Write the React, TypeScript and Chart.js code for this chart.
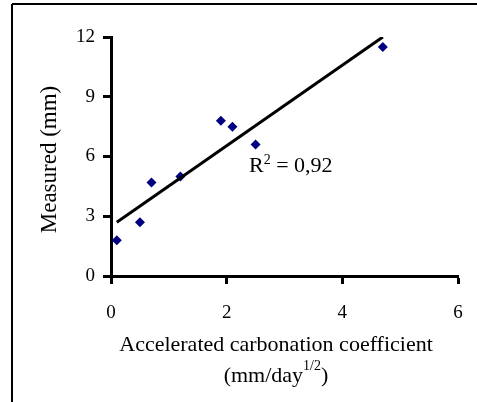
import React, { useEffect, useRef } from "react";
import { Chart, registerables } from "chart.js";

Chart.register(...registerables);

const measuredPoints = [
  { x: 0.1, y: 1.8 },
  { x: 0.5, y: 2.7 },
  { x: 0.7, y: 4.7 },
  { x: 1.2, y: 5.0 },
  { x: 1.9, y: 7.8 },
  { x: 2.1, y: 7.5 },
  { x: 2.5, y: 6.6 },
  { x: 4.7, y: 11.5 },
];
const trendLine = [
  { x: 0.1, y: 2.7 },
  { x: 4.7, y: 12.0 },
];
const xTicks = [0, 2, 4, 6];
const yTicks = [0, 3, 6, 9, 12];
const yTitle = "Measured (mm)";
const xTitleLine1 = "Accelerated carbonation coefficient";
const xTitleLine2 = ["(mm/day", "1/2", ")"];
const r2Label = ["R", "2", " = 0,92"];

const FONT = "'Liberation Serif', 'Times New Roman', serif";
const TICK_SIZE = 19;
const TITLE_SIZE = 22;
const YTITLE_SIZE = 23;
const SUP = 14;

const decorPlugin = {
  id: "decor",
  afterDraw(chart: any) {
    const ctx = chart.ctx as CanvasRenderingContext2D;
    const area = chart.chartArea;
    ctx.save();
    ctx.strokeStyle = "#000";
    ctx.lineWidth = 2;
    ctx.beginPath();
    ctx.moveTo(12, 4);
    ctx.lineTo(chart.width + 5, 4);
    ctx.moveTo(12, 4);
    ctx.lineTo(12, chart.height + 5);
    ctx.stroke();

    ctx.fillStyle = "#000";
    ctx.save();
    ctx.translate(50, (area.top + area.bottom) / 2 + 3);
    ctx.rotate(-Math.PI / 2);
    ctx.font = `${YTITLE_SIZE}px ${FONT}`;
    ctx.textAlign = "center";
    ctx.textBaseline = "middle";
    ctx.fillText(yTitle, 0, 0);
    ctx.restore();

    const cx = 276;
    ctx.font = `${TITLE_SIZE}px ${FONT}`;
    ctx.textAlign = "center";
    ctx.textBaseline = "alphabetic";
    ctx.fillText(xTitleLine1, cx, area.bottom + 75);

    const drawSup = (parts: string[], startX: number, baseY: number, center: boolean, raise: number) => {
      ctx.textAlign = "left";
      ctx.font = `${TITLE_SIZE}px ${FONT}`;
      const w0 = ctx.measureText(parts[0]).width;
      const w2 = ctx.measureText(parts[2]).width;
      ctx.font = `${SUP}px ${FONT}`;
      const w1 = ctx.measureText(parts[1]).width;
      let x = center ? startX - (w0 + w1 + w2) / 2 : startX;
      ctx.font = `${TITLE_SIZE}px ${FONT}`;
      ctx.fillText(parts[0], x, baseY);
      x += w0;
      ctx.font = `${SUP}px ${FONT}`;
      ctx.fillText(parts[1], x, baseY - raise);
      x += w1;
      ctx.font = `${TITLE_SIZE}px ${FONT}`;
      ctx.fillText(parts[2], x, baseY);
    };
    drawSup(xTitleLine2, cx, area.bottom + 106, true, 12);
    drawSup(r2Label, 249, 172, false, 8);
    ctx.restore();
  },
};

export default function App() {
  const ref = useRef<HTMLCanvasElement | null>(null);
  useEffect(() => {
    document.body.style.margin = "0";
    if (!ref.current) return;
    const axisCommon = {
      type: "linear" as const,
      grid: {
        drawOnChartArea: false,
        drawTicks: true,
        tickLength: 8,
        tickWidth: 3,
        tickColor: "#000",
      },
      border: { display: true, color: "#000", width: 3 },
    };
    const chart = new Chart(ref.current, {
      type: "scatter",
      data: {
        datasets: [
          {
            type: "line" as any,
            data: trendLine,
            borderColor: "#000",
            borderWidth: 3,
            pointRadius: 0,
            fill: false,
          },
          {
            type: "scatter",
            data: measuredPoints,
            pointStyle: "rectRot",
            pointRadius: 5,
            backgroundColor: "#000080",
            borderColor: "#000080",
            borderWidth: 0,
          },
        ],
      },
      options: {
        animation: false,
        responsive: false,
        layout: { padding: { left: 0, top: 37, right: 19, bottom: 0 } },
        plugins: { legend: { display: false }, tooltip: { enabled: false } },
        scales: {
          x: {
            ...axisCommon,
            min: 0,
            max: 6,
            afterBuildTicks: (s: any) => {
              s.ticks = xTicks.map((v) => ({ value: v }));
            },
            afterFit: (s: any) => {
              s.height = 126;
              s.paddingLeft = 0;
              s.paddingRight = 0;
            },
            ticks: {
              color: "#000",
              font: { family: FONT, size: TICK_SIZE },
              padding: 18,
              maxRotation: 0,
            },
          },
          y: {
            ...axisCommon,
            min: 0,
            max: 12,
            afterBuildTicks: (s: any) => {
              s.ticks = yTicks.map((v) => ({ value: v }));
            },
            afterFit: (s: any) => {
              s.width = 111;
              s.paddingTop = 0;
              s.paddingBottom = 0;
            },
            ticks: {
              color: "#000",
              font: { family: FONT, size: TICK_SIZE },
              padding: 8,
            },
          },
        },
      },
      plugins: [decorPlugin],
    });
    return () => chart.destroy();
  }, []);
  return (
    <div style={{ width: 477, height: 402 }}>
      <canvas ref={ref} width={477} height={402} />
    </div>
  );
}
